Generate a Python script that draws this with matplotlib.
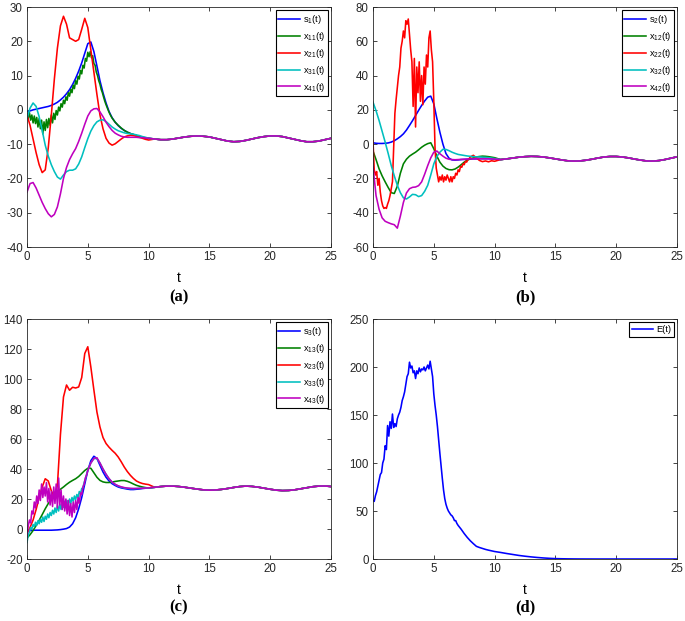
import numpy as np
import matplotlib
matplotlib.use("Agg")
import matplotlib.pyplot as plt

plt.rcParams['font.family'] = ['Liberation Sans', 'DejaVu Sans']
plt.rcParams['mathtext.fontset'] = 'custom'
plt.rcParams['mathtext.rm'] = 'Liberation Sans'
plt.rcParams['mathtext.it'] = 'Liberation Sans:italic'
plt.rcParams['axes.unicode_minus'] = False

# ---------------- data ----------------
# shared tails (t = 10.5 ... 25, step 0.5)
tail_a = [-8.5, -8.7, -8.7, -8.5, -8.2, -7.9, -7.7, -7.6, -7.7, -7.9,
          -8.3, -8.7, -9.1, -9.3, -9.2, -8.9, -8.5, -8.1, -7.8, -7.6,
          -7.6, -7.8, -8.2, -8.6, -9.0, -9.3, -9.3, -9.1, -8.7, -8.3]
tail_b = [-9.0, -8.6, -8.1, -7.6, -7.3, -7.1, -7.2, -7.5, -8.0, -8.6,
          -9.2, -9.7, -9.9, -9.8, -9.4, -8.8, -8.1, -7.5, -7.2, -7.2,
          -7.5, -8.0, -8.7, -9.3, -9.8, -9.9, -9.6, -9.0, -8.2, -7.4]
tail_c = [27.8, 28.3, 28.6, 28.6, 28.3, 27.8, 27.2, 26.6, 26.1, 25.9,
          26.0, 26.4, 27.0, 27.7, 28.3, 28.6, 28.4, 27.9, 27.2, 26.5,
          25.9, 25.6, 25.7, 26.1, 26.8, 27.5, 28.2, 28.6, 28.7, 28.3]
tail_d = [6.8, 5.7, 4.7, 3.7, 2.9, 2.2, 1.6, 1.1, 0.7, 0.4,
          0.25, 0.15, 0.08, 0.04, 0.02, 0.01, 0, 0, 0, 0,
          0, 0, 0, 0, 0, 0, 0, 0, 0, 0]

# panel (a): smooth series at t = 0 ... 10 step 0.25
a_s1 = [-0.5, -0.3, 0.0, 0.2, 0.4, 0.6, 0.8, 1.0, 1.3,
        1.7, 2.2, 2.9, 3.7, 4.7, 5.9, 7.4, 9.2,
        11.3, 13.7, 16.5, 19.3, 19.8, 17.0, 12.8, 8.5,
        5.0, 2.0, -0.5, -2.3, -3.6, -4.6, -5.4, -6.0,
        -6.5, -6.9, -7.2, -7.5, -7.8, -8.0, -8.2, -8.3]
a_x21 = [-1.5, -4.5, -8.5, -12.5, -16, -18.3, -17.5, -11, -1.5,
         9, 18, 24.5, 27.3, 25, 21, 20.5, 20,
         20.5, 23.5, 26.7, 24, 17.5, 11, 4.5, -1.5,
         -5.5, -8.3, -9.7, -10.3, -9.9, -9.2, -8.5, -7.9,
         -7.6, -7.4, -7.5, -7.7, -8.0, -8.3, -8.6, -8.8]
a_x31 = [-2.5, 0.5, 2.0, 1.0, -2.0, -6.0, -10.3, -13.5, -16,
         -18, -19.6, -20.2, -19.0, -18.0, -17.6, -17.6, -17.2,
         -15.8, -13.7, -11, -8.4, -6.2, -4.6, -3.5, -3.0,
         -2.9, -3.4, -4.2, -5.0, -5.6, -6.1, -6.4, -6.7,
         -6.9, -7.0, -7.1, -7.3, -7.5, -7.8, -8.0, -8.3]
a_x41 = [-24, -21.5, -21.2, -22.8, -24.9, -27, -28.8, -30.3, -31.2,
         -30.5, -28.3, -24.5, -20, -16.8, -14.5, -12.8, -11.3,
         -9.2, -6.8, -4.2, -1.8, -0.3, 0.3, 0.4, -0.6,
         -2.0, -3.6, -4.9, -6.0, -6.8, -7.3, -7.7, -7.9,
         -8.0, -8.0, -8.0, -8.0, -8.1, -8.1, -8.2, -8.3]
# noisy: fine part step 0.1, then coarse step 0.25 up to t=10
a_x11_fine = [-1.0, -2.5, -0.8, -3.0, -1.5, -3.8, -1.8, -4.0, -2.2, -5.0,
              -2.5, -5.5, -3.0, -7.0, -3.5, -6.0, -2.8, -5.2, -2.5, -4.5,
              -1.5, -3.8, -1.0, -2.8, -0.2, -1.5, 0.8, -0.3, 1.8, 0.8,
              2.8, 1.8, 3.8, 2.8, 5.0, 4.0, 6.0, 5.0, 7.2, 6.2,
              8.5, 7.5, 9.8, 9.0, 11.5, 10.5, 13.0, 12.2, 15.0, 14.2,
              16.8, 15.5, 17.0, 15.2, 15.8, 13.5, 13.0, 11.0, 10.0, 8.5,
              7.5, 6.0, 5.0, 3.7, 2.5, 1.5, 0.6, -0.3, -1.1, -1.8,
              -2.4]
a_x11_coarse = [-3.6, -4.5, -5.3, -6.0, -6.5, -6.9, -7.2, -7.5, -7.8, -8.0, -8.2, -8.3]

# panel (b)
b_s2 = [0.8, 0.5, 0.4, 0.4, 0.5, 0.7, 1.2, 2.0, 3.1,
        4.4, 6.0, 8.2, 10.9, 13.7, 16.7, 19.7, 22.6,
        25.2, 27.4, 28.0, 23.5, 15.0, 7.0, 0.0, -5.5,
        -8.2, -9.2, -9.3, -9.2, -9.0, -8.9, -8.8, -8.7,
        -8.6, -8.6, -8.5, -8.5, -8.5, -8.5, -8.6, -8.7]
b_x12 = [-4, -9, -14.4, -18.5, -22, -25.3, -28.3, -28.8, -24.5,
         -17, -11.5, -8.8, -7.0, -5.8, -4.7, -3.3, -1.8,
         -0.6, 0.3, 0.8, -2.7, -7, -10.5, -12.8, -14.2,
         -14.9, -15, -14.5, -13.4, -12, -10.5, -9.4, -8.6,
         -8.0, -7.5, -7.2, -7.0, -7.1, -7.3, -7.6, -7.9]
b_x32 = [24.5, 19.5, 13.8, 7.5, 1.2, -5.5, -12.5, -18.5, -24,
         -28.3, -31.3, -32, -30.8, -29.3, -29.5, -30.6, -30,
         -27.5, -24, -18, -11.5, -7.2, -4.7, -3.0, -3.1,
         -3.8, -4.7, -5.4, -6.0, -6.3, -6.6, -6.9, -7.1,
         -7.3, -7.4, -7.5, -7.6, -7.7, -7.9, -8.1, -8.4]
b_x42 = [-13, -30, -38, -43, -45, -45.8, -46.5, -47, -49,
         -42, -34, -28.5, -26, -25.2, -25, -24.2, -22,
         -17.5, -12.5, -8, -4.7, -4.0, -5.6, -7.0, -8.2,
         -8.8, -9.0, -9.1, -9.0, -8.9, -8.8, -8.7, -8.6,
         -8.6, -8.5, -8.5, -8.5, -8.5, -8.5, -8.6, -8.7]
b_x22_fine = [2.0, -15, -18, -16, -24, -20, -28, -33, -36, -37.5,
              -37, -37.5, -35, -33, -30, -26, -22, -2, 18, 26,
              33, 40, 45, 56, 60, 66, 62, 72, 70, 73,
              64, 55, 48, 22, 50, 10, 45, 30, 48, 25,
              40, 23, 45, 35, 52, 45, 62, 66, 55, 48,
              25, -2, -14, -18, -22, -19, -21, -18, -22, -19,
              -21, -18, -20, -22, -19, -22, -19, -20, -17, -18,
              -15, -16, -13, -13.5, -11.5, -12, -10, -10.5, -9, -8.5,
              -7.5]
b_x22_coarse = [-6.5, -8.0, -9.5, -10.2, -9.8, -10.3, -9.7, -10.0]

# panel (c)
c_s3 = [-1.5, -1.0, -0.8, -0.8, -0.8, -0.8, -0.8, -0.8, -0.8,
        -0.7, -0.6, -0.4, -0.1, 0.3, 1.3, 3.5, 7.5,
        13.5, 21, 30, 39, 45.5, 48.5, 47, 42.5,
        38, 34.5, 32, 30.2, 29, 28, 27.4, 27,
        26.6, 26.3, 26.3, 26.5, 26.7, 27.0, 27.2, 27.4]
c_x13 = [-6, -3.8, -1.0, 2.3, 5.8, 9.6, 13.5, 17, 20,
         22.5, 24.7, 26.5, 28, 29.7, 31.2, 32.4, 33.5,
         35, 37, 39, 40.5, 40.5, 37.5, 34.5, 32.4,
         31.4, 31.0, 31.0, 31.3, 31.7, 32.0, 32.3, 32.3,
         31.8, 31.0, 30.0, 29.1, 28.5, 28.0, 27.6, 27.3]
c_x23 = [-3, 1, 6, 13, 21, 28, 33.5, 32, 25.5,
         21, 29, 63, 88, 96, 92.5, 94.5, 94,
         94.7, 101, 117, 121.5, 108, 92.7, 78, 68,
         61, 57, 54.5, 52.4, 50.5, 48, 44.8, 41.3,
         38.3, 35.8, 33.7, 32, 31, 30.3, 29.9, 29.6]
c_x33_fine = [-9, -4, -2, 1, 0, 3, 1.5, 4.5, 2.5, 5.5,
              3.5, 6.5, 4.5, 8.0, 5.0, 8.5, 6.5, 10, 7.5, 11,
              9, 12.5, 10, 14, 11, 15.5, 12, 16.5, 13, 17.5,
              14.5, 18.5, 15.5, 19, 16, 20, 17, 21, 18.5, 22,
              19.5, 23, 21, 25, 23.5, 27, 27.5, 31, 33.5, 36.5,
              39]
c_x33_coarse = [44, 47, 47, 44, 40, 36.5, 33.5, 31.2, 29.7, 28.6,
                27.9, 27.4, 27.1, 26.9, 26.9, 27.0, 27.1, 27.2, 27.3, 27.4]
c_x43_fine = [-5, 2, 6, 4, 12, 10, 18, 14, 22, 17,
              26, 19, 30, 21, 28, 22, 31, 18, 27, 16,
              25, 15, 28, 17, 30, 14, 34, 16, 26, 13,
              22, 12, 20, 10, 19, 9, 17, 8, 18, 11,
              19, 13, 21, 17, 24, 23, 28, 30, 34, 36,
              39]
c_x43_coarse = [44, 47, 47.5, 44, 40, 36.5, 33.5, 31.3, 29.8, 28.8,
                28.1, 27.6, 27.3, 27.1, 27.0, 27.0, 27.1, 27.2, 27.3, 27.4]

# panel (d)
d_E_fine = [61, 60, 66, 70, 76, 82, 88, 90, 100, 104,
            118, 114, 139, 128, 143, 136, 151, 137, 141, 138,
            146, 150, 153, 158, 165, 169, 174, 182, 190, 193,
            205, 199, 201, 194, 196, 188, 196, 193, 199, 195,
            198, 197, 200, 196, 199, 202, 198, 206, 198, 190,
            172, 160, 150, 138, 124, 110, 97, 84, 72, 63,
            57, 53, 50, 48, 46, 45, 43, 40, 40, 37,
            35]
d_E_coarse = [31, 26.5, 22.5, 19, 16, 13.2, 12, 11, 10, 9.2, 8.5, 7.8]

# ---------------- helpers ----------------
T_TAIL = 10.5 + 0.5 * np.arange(30)


def smooth(vals, tail):
    assert len(vals) == 41 and len(tail) == 30, (len(vals), len(tail))
    t = np.concatenate([0.25 * np.arange(41), T_TAIL])
    return t, np.concatenate([vals, tail])


def noisy(fine, coarse, tail):
    n, m = len(fine), len(coarse)
    tf = 0.1 * np.arange(n)
    tc = tf[-1] + 0.25 * np.arange(1, m + 1)
    assert abs(tc[-1] - 10.0) < 1e-6, (n, m, tc[-1])
    t = np.concatenate([tf, tc, T_TAIL])
    return t, np.concatenate([fine, coarse, tail])


BLUE, GREEN, RED, CYAN, MAG = '#0000ff', '#008000', '#ff0000', '#00bfbf', '#bf00bf'

W, H = 685, 621
fig = plt.figure(figsize=(W / 100, H / 100), dpi=100)


def make_ax(x0, x1, y0, y1):
    return fig.add_axes([x0 / W, 1 - y1 / H, (x1 - x0) / W, (y1 - y0) / H])


def style(ax, ylim, yticks):
    ax.set_xlim(0, 25)
    ax.set_ylim(*ylim)
    ax.set_xticks([0, 5, 10, 15, 20, 25])
    ax.set_yticks(yticks)
    ax.tick_params(direction='in', top=True, right=True, length=3, width=0.6,
                   labelsize=8.3, pad=3, colors='#262626')
    for s in ax.spines.values():
        s.set_linewidth(0.6)
        s.set_color('#262626')
    ax.set_xlabel('t', fontsize=10)
    ax.xaxis.set_label_coords(0.5, -0.1)


def legend(ax):
    lg = ax.legend(loc='upper right', fontsize=6.7, frameon=True, fancybox=False,
                   edgecolor='black', framealpha=1, handlelength=2.3,
                   handletextpad=0.3, labelspacing=0.42, borderpad=0.3,
                   borderaxespad=0.35)
    lg.get_frame().set_linewidth(0.8)


LW = 1.15

# (a)
ax = make_ax(27, 331, 7, 247)
ax.plot(*smooth(a_s1, tail_a), color=BLUE, lw=LW, label='s$_1$(t)')
ax.plot(*noisy(a_x11_fine, a_x11_coarse, tail_a), color=GREEN, lw=LW, label='x$_{11}$(t)')
ax.plot(*smooth(a_x21, tail_a), color=RED, lw=LW, label='x$_{21}$(t)')
ax.plot(*smooth(a_x31, tail_a), color=CYAN, lw=LW, label='x$_{31}$(t)')
ax.plot(*smooth(a_x41, tail_a), color=MAG, lw=LW, label='x$_{41}$(t)')
style(ax, (-40, 30), range(-40, 31, 10))
legend(ax)

# (b)
ax = make_ax(373, 677, 7, 247)
ax.plot(*smooth(b_s2, tail_b), color=BLUE, lw=LW, label='s$_2$(t)')
ax.plot(*smooth(b_x12, tail_b), color=GREEN, lw=LW, label='x$_{12}$(t)')
ax.plot(*noisy(b_x22_fine, b_x22_coarse, tail_b), color=RED, lw=LW, label='x$_{22}$(t)')
ax.plot(*smooth(b_x32, tail_b), color=CYAN, lw=LW, label='x$_{32}$(t)')
ax.plot(*smooth(b_x42, tail_b), color=MAG, lw=LW, label='x$_{42}$(t)')
style(ax, (-60, 80), range(-60, 81, 20))
legend(ax)

# (c)
ax = make_ax(27, 331, 319, 559)
ax.plot(*smooth(c_s3, tail_c), color=BLUE, lw=LW, label='s$_3$(t)')
ax.plot(*smooth(c_x13, tail_c), color=GREEN, lw=LW, label='x$_{13}$(t)')
ax.plot(*smooth(c_x23, tail_c), color=RED, lw=LW, label='x$_{23}$(t)')
ax.plot(*noisy(c_x33_fine, c_x33_coarse, tail_c), color=CYAN, lw=LW, label='x$_{33}$(t)')
ax.plot(*noisy(c_x43_fine, c_x43_coarse, tail_c), color=MAG, lw=LW, label='x$_{43}$(t)')
style(ax, (-20, 140), range(-20, 141, 20))
legend(ax)

# (d)
ax = make_ax(373, 677, 319, 559)
ax.plot(*noisy(d_E_fine, d_E_coarse, tail_d), color=BLUE, lw=LW, label='E(t)')
style(ax, (0, 250), range(0, 251, 50))
legend(ax)

# panel captions
for lab, xc, yc in [('(a)', 179, 297), ('(b)', 525, 297), ('(c)', 179, 607), ('(d)', 525, 607)]:
    fig.text(xc / W, 1 - yc / H, lab, ha='center', va='center', fontsize=12,
             fontweight='bold', family=['Liberation Serif', 'DejaVu Serif'])

fig.savefig('out.png', dpi=100)
